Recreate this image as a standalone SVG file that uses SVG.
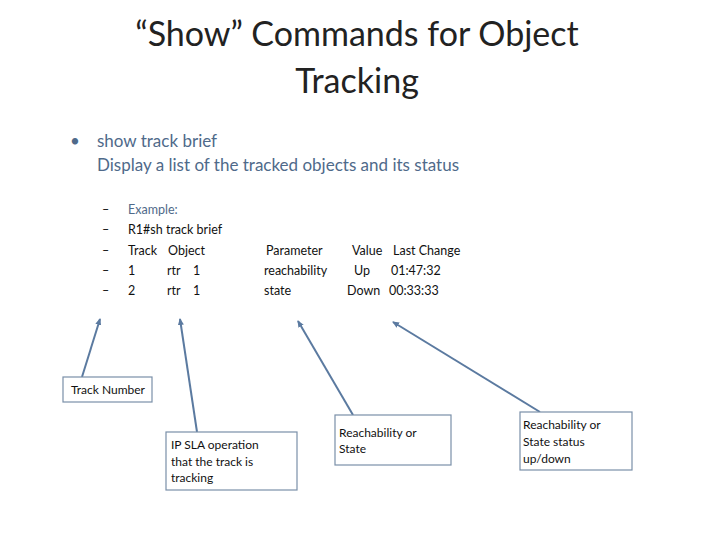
<svg xmlns="http://www.w3.org/2000/svg" width="720" height="540" viewBox="0 0 720 540">
<style>
text{font-family:Lato,"Open Sans",sans-serif}
.t{font-size:34px;fill:#222;text-anchor:middle}
.b{font-size:17px;fill:#4f6a8a}
.s{font-size:12.5px;fill:#111}
.n{font-size:12px;fill:#111}
.box{fill:#fff;stroke:#7a8fa8;stroke-width:1.2}
.c{stroke:#5b7aa0;stroke-width:2;fill:none;marker-end:url(#a)}
</style>
<defs><marker id="a" markerWidth="8" markerHeight="8" refX="6" refY="4" orient="auto" markerUnits="userSpaceOnUse"><path d="M0,1 L7,4 L0,7z" fill="#5b7aa0"/></marker></defs>
<rect width="720" height="540" fill="#fff"/>
<text class="t" x="357" y="46">“Show” Commands for Object</text>
<text class="t" x="357" y="93">Tracking</text>
<text class="b" x="70" y="147">•</text>
<text class="b" x="97" y="147">show track brief</text>
<text class="b" x="97" y="171">Display a list of the tracked objects and its status</text>
<g class="s">
<text x="102" y="214">–</text><text x="102" y="234">–</text><text x="102" y="255">–</text><text x="102" y="275">–</text><text x="102" y="295">–</text>
<text x="128" y="214" style="fill:#4f6a8a">Example:</text>
<text x="128" y="234">R1#sh track brief</text>
<text x="128" y="255">Track</text><text x="168" y="255">Object</text><text x="266" y="255">Parameter</text><text x="352" y="255">Value</text><text x="393" y="255">Last Change</text>
<text x="128" y="275">1</text><text x="167" y="275">rtr</text><text x="193" y="275">1</text><text x="264" y="275">reachability</text><text x="354" y="275">Up</text><text x="391" y="275">01:47:32</text>
<text x="128" y="295">2</text><text x="167" y="295">rtr</text><text x="193" y="295">1</text><text x="264" y="295">state</text><text x="347" y="295">Down</text><text x="389" y="295">00:33:33</text>
</g>
<g id="connectors">
<line class="c" x1="82" y1="377" x2="100" y2="319"/>
<line class="c" x1="197" y1="432" x2="180" y2="319"/>
<line class="c" x1="353" y1="415" x2="298" y2="321"/>
<line class="c" x1="540" y1="412" x2="393" y2="322"/>
</g>
<g id="n1"><rect class="box" x="63" y="377" width="89" height="25"/><text class="n" x="71" y="394">Track Number</text></g>
<g id="n2"><rect class="box" x="166" y="432" width="131" height="58"/><text class="n" x="171" y="449">IP SLA operation</text><text class="n" x="171" y="466">that the track is</text><text class="n" x="171" y="482">tracking</text></g>
<g id="n3"><rect class="box" x="335" y="415" width="116" height="50"/><text class="n" x="339" y="437">Reachability or</text><text class="n" x="339" y="453">State</text></g>
<g id="n4"><rect class="box" x="520" y="412" width="112" height="58"/><text class="n" x="523" y="429">Reachability or</text><text class="n" x="523" y="446">State status</text><text class="n" x="523" y="463">up/down</text></g>
</svg>
